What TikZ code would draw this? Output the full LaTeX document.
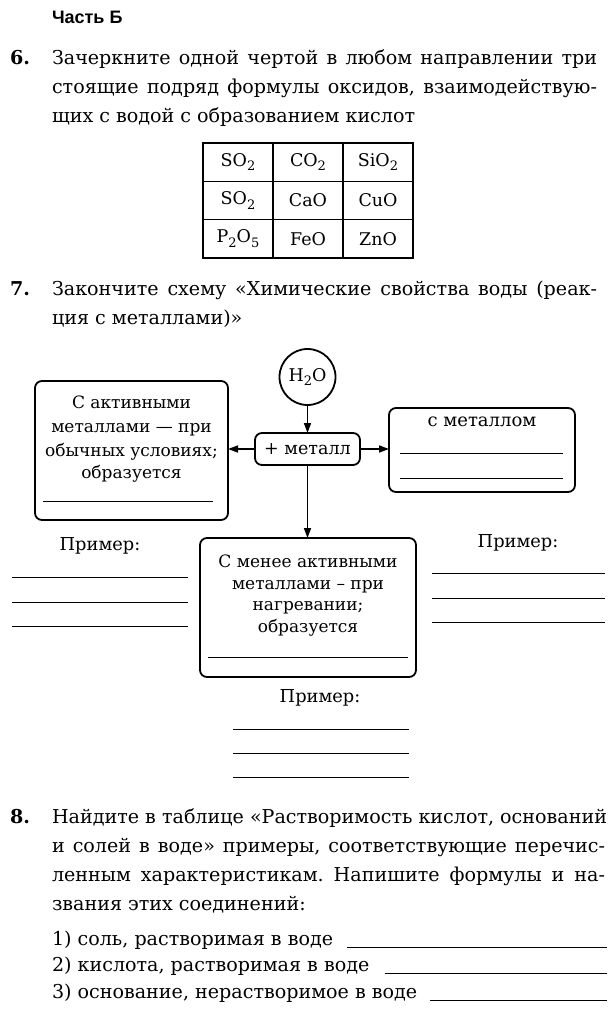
\documentclass[tikz,border=0pt]{standalone}
\usepackage{fontspec}
\setmainfont{DejaVu Serif}
\newfontfamily\headsans{Liberation Sans}
\usetikzlibrary{arrows.meta}
\frenchspacing
\newcommand\sbs[1]{\raisebox{-0.5ex}{\fontsize{13}{13}\selectfont #1}}
\tikzset{
  every node/.style={inner sep=0pt, outer sep=0pt},
  body/.style={font=\fontsize{19.1}{22}\selectfont, anchor=base west},
  bnum/.style={font=\fontsize{19.1}{22}\selectfont\bfseries, anchor=base west},
  btxt/.style={font=\fontsize{17}{23}\selectfont, anchor=base},
  rbox/.style={draw, line width=1.8pt, rounded corners=7pt},
  cell/.style={draw, line width=1.2pt, minimum width=70pt, minimum height=38.3pt, font=\fontsize{17.5}{22}\selectfont},
  arr/.style={-{Triangle[length=10pt,width=7pt]}, line width=1.6pt},
  ans/.style={line width=1pt},
}
\begin{document}
\begin{tikzpicture}[x=1pt,y=-1pt]
\useasboundingbox (0,0) rectangle (611,1024);
% header
\node[anchor=base west, font=\headsans\bfseries\fontsize{18}{20}\selectfont] (head) at (52,24) {Часть Б};
% task 6
\node[bnum] (n6) at (10,65) {6.};
\node[body] (t6a) at (52,65) {\makebox[545pt][s]{Зачеркните одной чертой в любом направлении три}};
\node[body] (t6b) at (52,94) {\makebox[545pt][s]{стоящие подряд формулы оксидов, взаимодействую-}};
\node[body] (t6c) at (52,123) {щих с водой с образованием кислот};
% table
\node[cell] (c11) at (238,162.2) {SO\sbs{2}};
\node[cell] (c12) at (308,162.2) {CO\sbs{2}};
\node[cell] (c13) at (378,162.2) {SiO\sbs{2}};
\node[cell] (c21) at (238,200.5) {SO\sbs{2}};
\node[cell] (c22) at (308,200.5) {CaO};
\node[cell] (c23) at (378,200.5) {CuO};
\node[cell] (c31) at (238,238.8) {P\sbs{2}O\sbs{5}};
\node[cell] (c32) at (308,238.8) {FeO};
\node[cell] (c33) at (378,238.8) {ZnO};
% task 7
\node[bnum] (n7) at (10,295) {7.};
\node[body] (t7a) at (52,295) {\makebox[545pt][s]{Закончите схему «Химические свойства воды (реак-}};
\node[body] (t7b) at (52,324) {ция с металлами)»};
% scheme
\node[draw, circle, line width=1.8pt, minimum size=56pt, font=\fontsize{17.5}{20}\selectfont] (water) at (307.5,377) {H\sbs{2}O};
\node[rbox, minimum width=105pt, minimum height=32pt, font=\fontsize{17.5}{20}\selectfont] (plus) at (307.5,449) {+ металл};
\node[rbox, minimum width=193pt, minimum height=139pt] (lbox) at (131.5,450.5) {};
\node[rbox, minimum width=186pt, minimum height=84pt] (rbox) at (482,450) {};
\node[rbox, minimum width=216pt, minimum height=139pt] (bbox) at (308,607.5) {};
\draw[arr] (water.south) -- (plus.north);
\draw[arr] (plus.west) -- (plus.west -| lbox.east);
\draw[arr] (plus.east) -- (plus.east -| rbox.west);
\draw[arr] (plus.south) -- (plus.south |- bbox.north);
% left box text
\node[btxt] (l1) at (131.5,408) {С активными};
\node[btxt] (l2) at (131.5,432) {металлами — при};
\node[btxt] (l3) at (131.5,456) {обычных условиях;};
\node[btxt] (l4) at (131.5,478) {образуется};
\draw[ans] (43,501) -- (213,501);
% right box text
\node[btxt, font=\fontsize{18}{23}\selectfont] (r1) at (482,426) {с металлом};
\draw[ans] (400,453) -- (563,453);
\draw[ans] (400,478) -- (563,478);
% bottom box text
\node[btxt] (b1) at (308,567) {С менее активными};
\node[btxt] (b2) at (308,589) {металлами – при};
\node[btxt] (b3) at (308,610) {нагревании;};
\node[btxt] (b4) at (308,632) {образуется};
\draw[ans] (208,657) -- (408,657);
% examples
\node[btxt, font=\fontsize{17.8}{23}\selectfont] (pl) at (100,550) {Пример:};
\draw[ans] (12,577) -- (188,577);
\draw[ans] (12,602) -- (188,602);
\draw[ans] (12,626) -- (188,626);
\node[btxt, font=\fontsize{17.8}{23}\selectfont] (pr) at (518,547) {Пример:};
\draw[ans] (432,573) -- (605,573);
\draw[ans] (432,598) -- (605,598);
\draw[ans] (432,622) -- (605,622);
\node[btxt, font=\fontsize{17.8}{23}\selectfont] (pb) at (320,702) {Пример:};
\draw[ans] (233,729) -- (409,729);
\draw[ans] (233,753) -- (409,753);
\draw[ans] (233,777) -- (409,777);
% task 8
\node[bnum] (n8) at (10,823) {8.};
\node[body] (t8a) at (52,823) {\makebox[555pt][s]{Найдите в таблице «Растворимость кислот, оснований}};
\node[body] (t8b) at (52,852) {\makebox[553pt][s]{и солей в воде» примеры, соответствующие перечис-}};
\node[body] (t8c) at (52,881) {\makebox[553pt][s]{ленным характеристикам. Напишите формулы и на-}};
\node[body] (t8d) at (52,910) {звания этих соединений:};
\node[body] (i1) at (52,945) {1) соль, растворимая в воде};
\node[body] (i2) at (52,971) {2) кислота, растворимая в воде};
\node[body] (i3) at (52,998) {3) основание, нерастворимое в воде};
\draw[ans] (347,947) -- (607,947);
\draw[ans] (385,973) -- (607,973);
\draw[ans] (430,1000) -- (607,1000);
\end{tikzpicture}
\end{document}
